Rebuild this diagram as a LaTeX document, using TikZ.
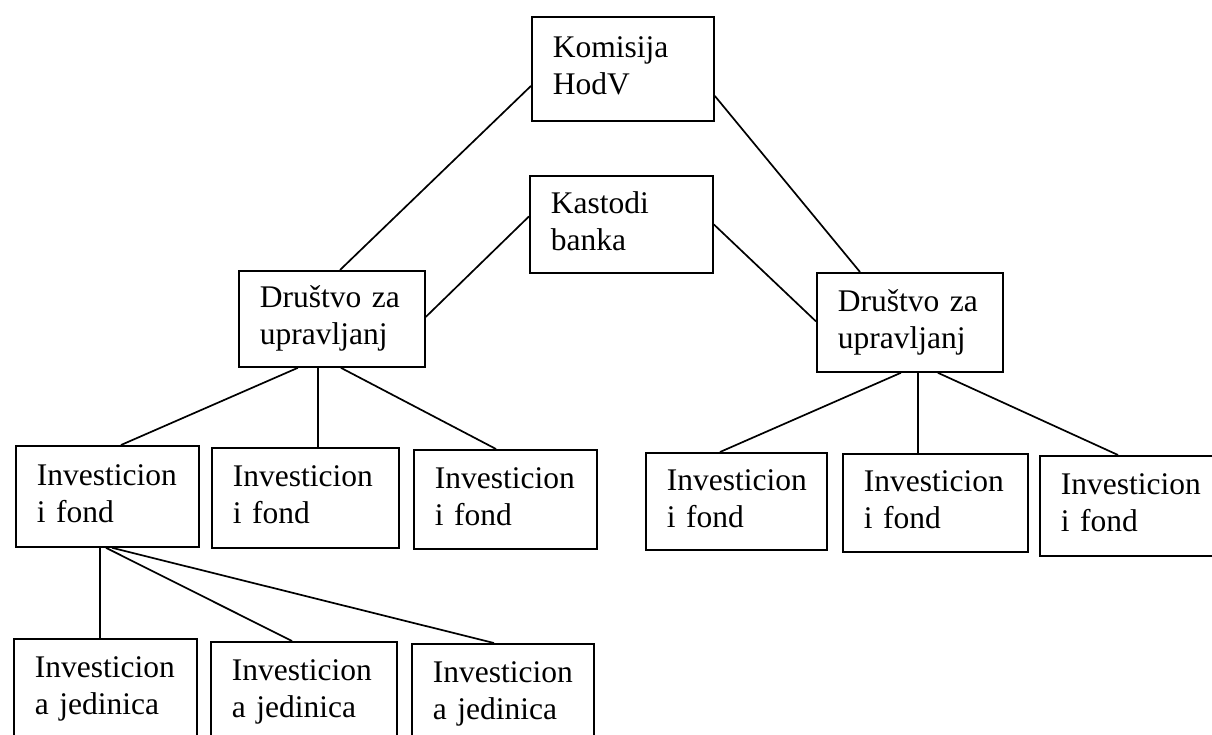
\documentclass[tikz,border=0pt]{standalone}
\usepackage{fontspec}
\setmainfont{Liberation Serif}
\newcommand{\fsz}{\fontsize{31.5}{37}\selectfont}
\newcommand{\bx}[2]{\strut #1\\\strut #2}
\tikzset{
  box/.style={draw, line width=1.8pt, anchor=north west, inner xsep=21pt, inner ysep=0pt, align=left, font=\fsz},
  conn/.style={line width=1.7pt}
}
\begin{document}
\begin{tikzpicture}[x=1pt,y=1pt]
\useasboundingbox (0,0) rectangle (1212,-734);
% top level
\node[box, text width=140pt, minimum height=104pt] (k) at (531,-16) {\bx{Komisija}{HodV}};
\node[box, text width=141pt, minimum height=97pt] (b) at (529,-175) {\bx{Kastodi}{banka}};
% managers
\node[box, text width=144pt, minimum height=96pt] (d1) at (238,-270) {\bx{Društvo za}{upravljanj}};
\node[box, text width=144pt, minimum height=99pt] (d2) at (816,-272) {\bx{Društvo za}{upravljanj}};
% funds left
\node[box, text width=141pt, minimum height=101pt] (lb1) at (15,-445) {\bx{Investicion}{i fond}};
\node[box, text width=145pt, minimum height=100pt] (lb2) at (211,-447) {\bx{Investicion}{i fond}};
\node[box, text width=141pt, minimum height=99pt] (lb3) at (413,-449) {\bx{Investicion}{i fond}};
% funds right
\node[box, text width=139pt, minimum height=97pt] (rb1) at (645,-452) {\bx{Investicion}{i fond}};
\node[box, text width=143pt, minimum height=98pt] (rb2) at (842,-453) {\bx{Investicion}{i fond}};
\node[box, text width=143pt, minimum height=100pt] (rb3) at (1039,-455) {\bx{Investicion}{i fond}};
% units
\node[box, text width=141pt, minimum height=100pt] (ij1) at (13,-638) {\bx{Investicion}{a jedinica}};
\node[box, text width=144pt, minimum height=100pt] (ij2) at (210,-641) {\bx{Investicion}{a jedinica}};
\node[box, text width=140pt, minimum height=100pt] (ij3) at (411,-643) {\bx{Investicion}{a jedinica}};
% connectors
\draw[conn] ([yshift=-17]k.west) -- ([xshift=102]d1.north west);
\draw[conn] ([yshift=-27]k.east) -- ([xshift=44]d2.north west);
\draw[conn] ([yshift=8]b.west) -- ([yshift=2]d1.east);
\draw[conn] (b.east) -- ([yshift=1]d2.west);
\draw[conn] ([xshift=-34]d1.south) -- ([xshift=106]lb1.north west);
\draw[conn] ([xshift=-14]d1.south) -- ([xshift=-14]d1.south |- lb2.north);
\draw[conn] ([xshift=9]d1.south) -- ([xshift=83]lb3.north west);
\draw[conn] ([xshift=-9]d2.south) -- ([xshift=75]rb1.north west);
\draw[conn] ([xshift=8]d2.south) -- ([xshift=8]d2.south |- rb2.north);
\draw[conn] ([xshift=28]d2.south) -- ([xshift=79]rb3.north west);
\draw[conn] ([xshift=85]lb1.south west) -- ([xshift=85]lb1.south west |- ij1.north);
\draw[conn] ([xshift=91]lb1.south west) -- ([xshift=82]ij2.north west);
\draw[conn] ([xshift=97]lb1.south west) -- ([xshift=83]ij3.north west);
\end{tikzpicture}
\end{document}
